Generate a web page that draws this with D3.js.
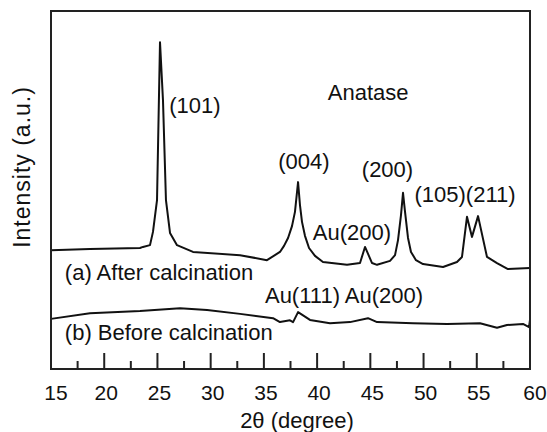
<!DOCTYPE html>
<html>
<head>
  <meta charset="utf-8">
  <script src="https://d3js.org/d3.v7.min.js"></script>
  <style type="text/css">
    body { margin: 0; background: #fff; }
    text { font-family: "Liberation Sans", Arial, sans-serif; fill: #111; }
    .tick-label { font-size: 21px; }
    .note { font-size: 22px; }
    .axis-title { font-size: 22px; }
  </style>
</head>
<body>
  <script type="text/javascript">
    // 2theta (degree) and intensity (a.u.) for each pattern
    var afterTheta = [15.0, 18.66, 23.36, 23.64, 24.30, 24.58, 24.96, 25.24, 25.52, 25.80, 26.18, 26.84,
      28.34, 32.76, 35.29, 36.51, 36.89, 37.27, 37.64, 37.92, 38.21, 38.39, 38.58, 38.86, 39.24, 39.80,
      40.55, 42.81, 44.03, 44.50, 45.16, 45.63, 46.85, 47.32, 47.60, 47.88, 48.07, 48.26, 48.54, 48.82,
      49.29, 49.95, 51.83, 53.14, 53.61, 54.08, 54.55, 55.12, 55.96, 56.90, 57.93, 60.0];
    var afterInt = [332, 335, 338, 341, 346, 383, 472, 913, 751, 472, 380, 346,
      327, 318, 304, 327, 344, 366, 399, 439, 522, 458, 411, 372, 338, 316,
      299, 291, 296, 341, 296, 291, 302, 318, 360, 430, 492, 439, 366, 327,
      304, 293, 285, 299, 313, 425, 369, 427, 313, 296, 279, 282];

    var beforeTheta = [15.0, 18.66, 23.36, 27.12, 29.66, 32.76, 35.86, 36.51, 37.45, 37.74, 38.21,
      39.33, 41.21, 43.09, 44.78, 45.63, 49.01, 52.20, 55.30, 56.90, 57.84, 59.34, 59.91, 60.0];
    var beforeInt = [140, 156, 162, 170, 165, 154, 142, 131, 136, 131, 159,
      137, 128, 131, 142, 131, 128, 126, 128, 115, 123, 126, 117, 137];

    var xTicks = [15, 20, 25, 30, 35, 40, 45, 50, 55, 60];
    var xMinor = [17.5, 22.5, 27.5, 32.5, 37.5, 42.5, 47.5, 52.5, 57.5];

    // peak labels: text, 2theta where it starts, intensity level of baseline
    var noteText = ["(101)", "Anatase", "(004)", "(200)", "(105)(211)", "Au(200)",
      "Au(111) Au(200)", "(a) After calcination", "(b) Before calcination"];
    var noteTheta = [26.1, 41.0, 36.35, 44.2, 49.15, 39.6, 35.1, 16.3, 16.3];
    var noteInt = [714, 752, 558, 536, 466, 360, 184, 249, 81];

    var W = 547, H = 432;
    var mLeft = 51, mRight = 530, mTop = 11, mBottom = 369;

    var svg = d3.select("body").append("svg")
        .attr("width", W)
        .attr("height", H);

    var xScale = d3.scaleLinear().domain([15, 60]).range([mLeft, mRight]);
    var yScale = d3.scaleLinear().domain([0, 1000]).range([mBottom, mTop]);

    var line = d3.line()
        .x(function(d) { return xScale(d[0]); })
        .y(function(d) { return yScale(d[1]); });

    var afterData = d3.zip(afterTheta, afterInt);
    var beforeData = d3.zip(beforeTheta, beforeInt);

    [afterData, beforeData].forEach(function(d) {
      svg.append("path")
        .datum(d)
        .attr("d", line)
        .attr("fill", "none")
        .attr("stroke", "#111")
        .attr("stroke-width", 2)
        .attr("stroke-linejoin", "round");
    });

    // ticks point inward from the bottom edge
    svg.selectAll(".major").data(xTicks.slice(1, -1)).enter().append("line")
        .attr("x1", function(d) { return xScale(d); }).attr("x2", function(d) { return xScale(d); })
        .attr("y1", mBottom).attr("y2", mBottom - 16)
        .attr("stroke", "#222").attr("stroke-width", 2);
    svg.selectAll(".minor").data(xMinor).enter().append("line")
        .attr("x1", function(d) { return xScale(d); }).attr("x2", function(d) { return xScale(d); })
        .attr("y1", mBottom).attr("y2", mBottom - 8)
        .attr("stroke", "#222").attr("stroke-width", 2);

    svg.selectAll(".tick-label").data(xTicks).enter().append("text")
        .attr("class", "tick-label")
        .attr("x", function(d, i) { return xScale(d) + (i === 0 || i === xTicks.length - 1 ? 5 : 2); })
        .attr("y", 400)
        .attr("text-anchor", "middle")
        .text(function(d) { return d; });

    // frame
    svg.append("rect")
        .attr("x", mLeft).attr("y", mTop)
        .attr("width", mRight - mLeft).attr("height", mBottom - mTop)
        .attr("fill", "none")
        .attr("stroke", "#222")
        .attr("stroke-width", 2);

    svg.selectAll(".note").data(noteText).enter().append("text")
        .attr("class", "note")
        .attr("x", function(d, i) { return xScale(noteTheta[i]); })
        .attr("y", function(d, i) { return yScale(noteInt[i]); })
        .text(function(d) { return d; });

    svg.append("text")
        .attr("class", "axis-title")
        .attr("x", 297)
        .attr("y", 428)
        .attr("text-anchor", "middle")
        .text("2\u03b8 (degree)");

    svg.append("text")
        .attr("class", "axis-title")
        .attr("transform", "translate(30,167) rotate(-90)")
        .attr("text-anchor", "middle")
        .style("font-size", "23px")
        .style("letter-spacing", "1px")
        .text("Intensity (a.u.)");
  </script>
</body>
</html>
